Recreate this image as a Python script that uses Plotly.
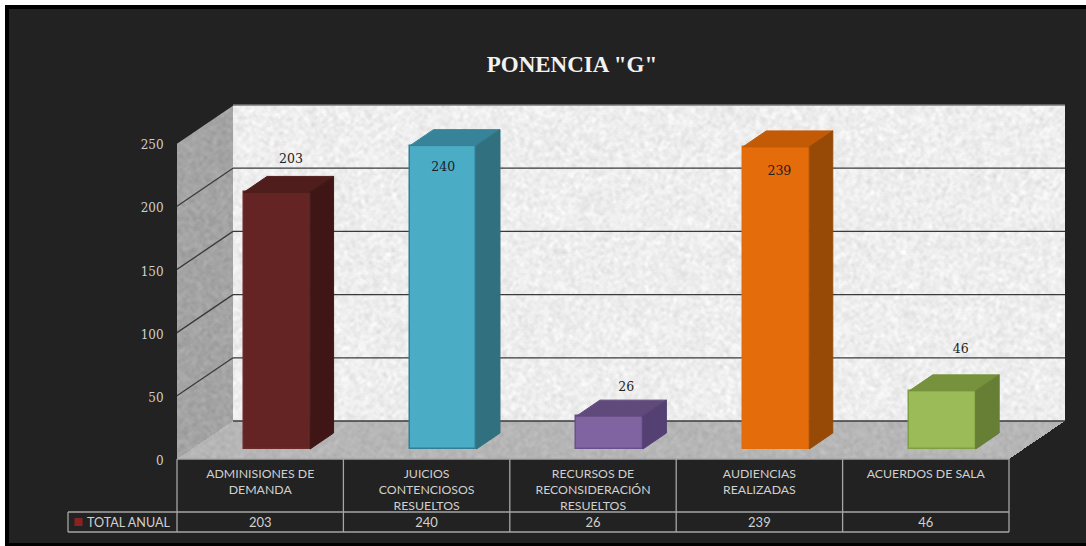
import base64, io, struct, zlib
import numpy as np
import plotly.graph_objects as go

# ---- data ----
categories = ["ADMINISIONES DE<br>DEMANDA", "JUICIOS<br>CONTENCIOSOS<br>RESUELTOS",
              "RECURSOS DE<br>RECONSIDERACIÓN<br>RESUELTOS", "AUDIENCIAS<br>REALIZADAS",
              "ACUERDOS DE SALA"]
values = [203, 240, 26, 239, 46]
series_name = "TOTAL ANUAL"
y_ticks = [0, 50, 100, 150, 200, 250]
title_text = 'PONENCIA "G"'

# ---- styles ----
front = ["#632423", "#4bacc6", "#8064a2", "#e46c0a", "#9bbb59"]
top_c = ["#4f1d1c", "#37849a", "#604a7b", "#c25a06", "#76923c"]
side = ["#3f1615", "#31707f", "#544072", "#964a05", "#677f35"]
edge = ["#6b2a28", "#2f7f95", "#6a4f90", "#e06c0a", "#7fa03f"]
# per-bar label placement (offset from value in y, in x from bar centre)
label_dy = [34, -10, 30, -12, 40]
label_dx = [0.085, 0.0, 0.10, 0.02, 0.11]

W, H = 1086, 546
PX_X, PX_Y = 166.4, 1.264          # pixels per category / per value unit
X0, Y0 = 177, 459                   # pixel location of (0, 0)
xr = [-X0 / PX_X, (W - X0) / PX_X]
yr = [-(H - Y0) / PX_Y, Y0 / PX_Y]
DX, DY = 56 / PX_X, 38 / PX_Y       # floor depth
BW = 66.5 / PX_X                    # bar width
BDX, BDY = 23.5 / PX_X, 16 / PX_Y   # bar depth
BASE = 10 / PX_Y                    # bar front edge above the front of floor
CX = 0.6                            # bar centre inside its category
n = len(values)
ROW1, ROW2 = -53 / PX_Y, -73 / PX_Y
YMAX = y_ticks[-1]


def png_uri(rgba):
    h, w, _ = rgba.shape
    raw = b"".join(b"\x00" + rgba[i].tobytes() for i in range(h))
    def chunk(t, d):
        return struct.pack(">I", len(d)) + t + d + struct.pack(">I", zlib.crc32(t + d) & 0xffffffff)
    data = b"\x89PNG\r\n\x1a\n" + chunk(b"IHDR", struct.pack(">IIBBBBB", w, h, 8, 6, 0, 0, 0)) \
        + chunk(b"IDAT", zlib.compress(raw, 6)) + chunk(b"IEND", b"")
    return "data:image/png;base64," + base64.b64encode(data).decode()


def grain(w, h, seed):
    yy, xx = np.mgrid[0:h, 0:w].astype(float)
    v = np.sin((xx + seed) * 12.9898 + (yy + seed) * 78.233) * 43758.5453
    v = v - np.floor(v)
    def blur(a, r):
        out = np.zeros_like(a)
        for dx in range(-r, r + 1):
            for dy in range(-r, r + 1):
                out += np.roll(np.roll(a, dx, 1), dy, 0)
        return out / (2 * r + 1) ** 2
    a = blur(v, 1) - 0.5
    b = blur(v, 2) - 0.5
    return a * 2.0 + b * 3.0


def texture(w, h, base, amp, seed, mask=None):
    g = grain(w, h, seed)
    c = np.clip(base + amp * g, 0, 255).astype(np.uint8)
    al = np.full((h, w), 255, np.uint8) if mask is None else (mask * 255).astype(np.uint8)
    return png_uri(np.dstack([c, c, c, al]))


dpx, dpy = int(DX * PX_X), int(round(DY * PX_Y))
wh_px = int(round(YMAX * PX_Y))
wall_w = int(round(n * PX_X))

# left wall mask (parallelogram)
yy, xx = np.mgrid[0:wh_px + dpy, 0:dpx]
t = (xx + 0.5) / dpx
left_mask = ((yy + 0.5) >= dpy * (1 - t)) & ((yy + 0.5) <= wh_px + dpy * (1 - t))
# floor mask
yy, xx = np.mgrid[0:dpy, 0:wall_w + dpx]
s = (dpy - yy - 0.5) / dpy
floor_mask = ((xx + 0.5) >= s * dpx) & ((xx + 0.5) <= wall_w + s * dpx)

images = [
    dict(source=texture(wall_w, wh_px, 238, 14, 1), xref="x", yref="y", x=DX, y=DY + YMAX,
         sizex=n, sizey=YMAX, sizing="stretch", xanchor="left", yanchor="top", layer="below"),
    dict(source=texture(dpx, wh_px + dpy, 164, 12, 2, left_mask), xref="x", yref="y", x=0, y=DY + YMAX,
         sizex=DX, sizey=YMAX + DY, sizing="stretch", xanchor="left", yanchor="top", layer="below"),
    dict(source=texture(wall_w + dpx, dpy, 182, 10, 3, floor_mask), xref="x", yref="y", x=0, y=DY,
         sizex=n + DX, sizey=DY, sizing="stretch", xanchor="left", yanchor="top", layer="below"),
]

GRID = "#3a3a3a"
TBL = "#a6a6a6"
shapes = [
    dict(type="rect", xref="paper", yref="paper", x0=5 / W, x1=1, y0=0, y1=1 - 5 / H,
         fillcolor="#000000", line_width=0, layer="below"),
    dict(type="rect", xref="paper", yref="paper", x0=9 / W, x1=1, y0=3 / H, y1=1 - 9 / H,
         fillcolor="#222222", line_width=0, layer="below"),
]


def line(x0, y0, x1, y1, color, w=1.3):
    return dict(type="line", xref="x", yref="y", x0=x0, y0=y0, x1=x1, y1=y1,
                line=dict(color=color, width=w), layer="between")


for v in y_ticks:
    if v > 0:
        shapes.append(line(0, v, DX, DY + v, "#222222" if v == YMAX else GRID))
    if v < YMAX:
        shapes.append(line(DX, DY + v, DX + n, DY + v, GRID))
shapes.append(line(DX, DY + YMAX, DX + n, DY + YMAX, "#777777"))
for i in range(n + 1):
    shapes.append(line(i, 0, i, ROW2, TBL))
shapes.append(line(-109 / PX_X, ROW1, -109 / PX_X, ROW2, TBL))
shapes.append(line(0, 0, n, 0, TBL))
shapes.append(line(-109 / PX_X, ROW1, n, ROW1, TBL))
shapes.append(line(-109 / PX_X, ROW2, n, ROW2, TBL))

fig = go.Figure()
centers = [i + CX for i in range(n)]

fig.add_trace(go.Bar(x=centers, y=values, base=[BASE] * n, width=BW, showlegend=False, hoverinfo="skip",
                     marker=dict(color=front, line=dict(color=edge, width=1.5))))

for i, v in enumerate(values):
    l, r = centers[i] - BW / 2, centers[i] + BW / 2
    b, t_ = BASE, BASE + v
    fig.add_trace(go.Scatter(x=[l, l + BDX, r + BDX, r, l], y=[t_, t_ + BDY, t_ + BDY, t_, t_],
                             mode="lines", fill="toself", fillcolor=top_c[i],
                             line=dict(color=top_c[i], width=1), showlegend=False, hoverinfo="skip"))
    fig.add_trace(go.Scatter(x=[r, r + BDX, r + BDX, r, r], y=[b, b + BDY, t_ + BDY, t_, b],
                             mode="lines", fill="toself", fillcolor=side[i],
                             line=dict(color=side[i], width=1), showlegend=False, hoverinfo="skip"))

# value labels over the bars
fig.add_trace(go.Scatter(x=[c + d for c, d in zip(centers, label_dx)],
                         y=[v + d for v, d in zip(values, label_dy)],
                         mode="text", text=[str(v) for v in values], textposition="middle center",
                         textfont=dict(family="DejaVu Serif", size=12.5, color="#1c2226"),
                         showlegend=False, hoverinfo="skip"))
# table row values
ROWMID = (ROW1 + ROW2) / 2 - 1.2
fig.add_trace(go.Scatter(x=[i + 0.5 for i in range(n)], y=[ROWMID] * n,
                         mode="text", text=[str(v) for v in values], textposition="middle center",
                         textfont=dict(family="Lato", size=13, color="#d0d0d0"),
                         showlegend=False, hoverinfo="skip"))
# legend key + series name in the table
fig.add_trace(go.Scatter(x=[-98.5 / PX_X], y=[ROWMID + 1.2], mode="markers",
                         marker=dict(symbol="square", size=8, color="#8a2222"),
                         showlegend=False, hoverinfo="skip"))
fig.add_trace(go.Scatter(x=[-48.5 / PX_X], y=[ROWMID], mode="text", text=[series_name],
                         textposition="middle center",
                         textfont=dict(family="Lato", size=12.6, color="#d0d0d0"),
                         showlegend=False, hoverinfo="skip"))

fig.update_layout(
    width=W, height=H, margin=dict(l=0, r=0, t=0, b=0), autosize=False,
    paper_bgcolor="#ffffff", plot_bgcolor="rgba(0,0,0,0)",
    shapes=shapes, images=images,
    title=dict(text=title_text, x=572 / W, xanchor="center", y=1 - 64 / H, yanchor="middle",
               font=dict(family="Liberation Serif", size=23, color="#f2f2f2", weight="bold")),
    xaxis=dict(range=xr, tickmode="array", tickvals=[i + 0.5 for i in range(n)], ticktext=categories,
               anchor="free", position=(H - Y0) / H, showgrid=False, zeroline=False, showline=False,
               ticks="outside", ticklen=3, tickcolor="rgba(0,0,0,0)",
               tickfont=dict(family="Lato", size=12.3, color="#d0d0d0"), fixedrange=True),
    yaxis=dict(range=yr, tickmode="array", tickvals=y_ticks, ticktext=[str(v) for v in y_ticks],
               anchor="free", position=X0 / W, showgrid=False, zeroline=False, showline=False,
               ticks="outside", ticklen=11, tickcolor="rgba(0,0,0,0)", ticklabelshift=2,
               tickfont=dict(family="DejaVu Serif", size=12, color="#d0d0d0"), fixedrange=True),
    bargap=0,
)
fig.write_html("out.html", config=dict(displayModeBar=False),
               post_script="document.body.style.margin='0';document.documentElement.style.overflow='hidden';")
